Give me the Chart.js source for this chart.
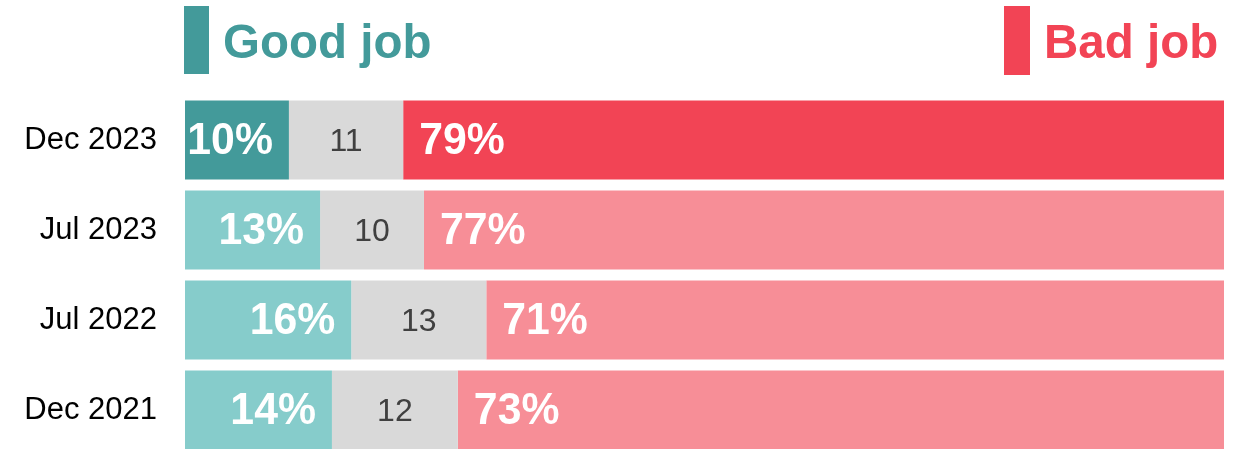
<!DOCTYPE html>
<html>
<head>
<meta charset="utf-8">
<title>Good job / Bad job</title>
<script src="https://cdn.jsdelivr.net/npm/chart.js@4.4.1/dist/chart.umd.min.js"></script>
<style>
  html, body { margin: 0; padding: 0; background: #ffffff; overflow: hidden; }
  #wrap { position: relative; width: 1240px; height: 460px; }
</style>
</head>
<body>
<div id="wrap"><canvas id="chart"></canvas></div>
<script>
// Survey waves, newest first
const categories = ['Dec 2023', 'Jul 2023', 'Jul 2022', 'Dec 2021'];
// Percent answering in each group
const goodJob = [10, 13, 16, 14];
const neither = [11, 10, 13, 12];
const badJob  = [79, 77, 71, 73];

const FONT = '"Liberation Sans", Arial, Helvetica, sans-serif';
const TEAL_DARK = '#439A9A', TEAL_LIGHT = '#86CCCB';
const GREY = '#D9D9D9';
const RED_DARK = '#F24455', RED_LIGHT = '#F78E97';

// Each row is shown as a share of its own total (full-width rows)
const rowTotals = categories.map((_, i) => goodJob[i] + neither[i] + badJob[i]);
const share = arr => arr.map((v, i) => v / rowTotals[i] * 100);

const latestFirst = (dark, light) => categories.map((_, i) => i === 0 ? dark : light);

const headerPlugin = {
  id: 'header',
  afterDraw(chart) {
    const ctx = chart.ctx;
    ctx.save();
    ctx.font = 'bold 47.5px ' + FONT;
    ctx.textBaseline = 'alphabetic';
    ctx.textAlign = 'left';
    ctx.fillStyle = TEAL_DARK;
    ctx.fillRect(184, 6, 25, 68);
    ctx.fillText('Good job', 223, 58);
    ctx.fillStyle = RED_DARK;
    ctx.fillRect(1004, 6, 26, 69);
    ctx.fillText('Bad job', 1044, 58);
    ctx.restore();
  }
};

// Slightly condensed bold text for the percentage labels
function drawCondensed(ctx, text, x, y, align) {
  ctx.save();
  ctx.translate(x, y);
  ctx.scale(0.95, 1);
  ctx.textAlign = align;
  ctx.fillText(text, 0, 0);
  ctx.restore();
}

const valueLabels = {
  id: 'valueLabels',
  afterDatasetsDraw(chart) {
    const ctx = chart.ctx;
    const raws = [goodJob, neither, badJob];
    ctx.save();
    ctx.textBaseline = 'middle';
    chart.data.datasets.forEach((ds, di) => {
      const meta = chart.getDatasetMeta(di);
      meta.data.forEach((bar, j) => {
        const p = bar.getProps(['x', 'y', 'base'], true);
        const v = raws[di][j];
        if (di === 0) {
          ctx.font = 'bold 45px ' + FONT;
          ctx.fillStyle = '#ffffff';
          drawCondensed(ctx, v + '%', p.x - 16, p.y + 2, 'right');
        } else if (di === 1) {
          ctx.font = '32px ' + FONT;
          ctx.fillStyle = '#404040';
          ctx.textAlign = 'center';
          ctx.fillText(String(v), (p.x + p.base) / 2, p.y + 2);
        } else {
          ctx.font = 'bold 45px ' + FONT;
          ctx.fillStyle = '#ffffff';
          drawCondensed(ctx, v + '%', p.base + 16, p.y + 2, 'left');
        }
      });
    });
    ctx.restore();
  }
};

const chart = new Chart(document.getElementById('chart'), {
  type: 'bar',
  data: {
    labels: categories,
    datasets: [
      { label: 'Good job', data: share(goodJob), backgroundColor: latestFirst(TEAL_DARK, TEAL_LIGHT) },
      { label: 'Neither', data: share(neither), backgroundColor: GREY },
      { label: 'Bad job', data: share(badJob), backgroundColor: latestFirst(RED_DARK, RED_LIGHT) }
    ]
  },
  options: {
    indexAxis: 'y',
    responsive: true,
    maintainAspectRatio: false,
    animation: false,
    devicePixelRatio: 1,
    layout: { padding: { top: 95, right: 16, bottom: 5, left: 0 } },
    datasets: { bar: { barPercentage: 1, categoryPercentage: 79 / 90, borderWidth: 0 } },
    plugins: { legend: { display: false }, tooltip: { enabled: false }, title: { display: false } },
    scales: {
      x: { stacked: true, min: 0, max: 100, display: false },
      y: {
        stacked: true,
        grid: { display: false, drawTicks: false },
        border: { display: false },
        ticks: { color: '#000000', font: { family: FONT, size: 31 }, padding: 28 },
        afterFit(scale) {
          scale.width = 185;
          // category labels sit inside the bands; no extra room above/below
          scale.paddingTop = 0;
          scale.paddingBottom = 0;
        }
      }
    }
  },
  plugins: [headerPlugin, valueLabels]
});
</script>
</body>
</html>
